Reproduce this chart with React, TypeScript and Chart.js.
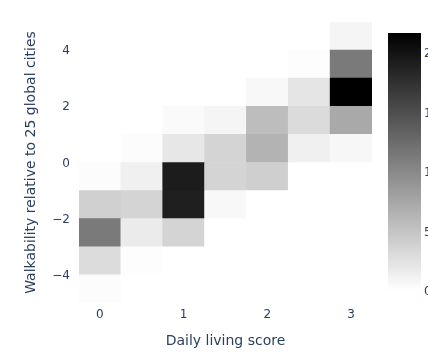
import React, { useEffect, useRef } from 'react';
import { Chart, registerables } from 'chart.js';

Chart.register(...registerables);

// ---- data ----
const xBinCenters = [0, 0.5, 1, 1.5, 2, 2.5, 3];
const yBinEdges = [-5, -4, -3, -2, -1, 0, 1, 2, 3, 4, 5];
const xTickValues = [0, 1, 2, 3];
const yTickValues = [-4, -2, 0, 2, 4];
const colorbarTicks = [0, 5, 10, 15, 20];
const xTitle = 'Daily living score';
const yTitle = 'Walkability relative to 25 global cities';

// z per y bin (bottom to top), one value per x bin
const zYm45 = [0.26, 0, 0, 0, 0, 0, 0];
const zYm35 = [3.0, 0.17, 0, 0, 0, 0, 0];
const zYm25 = [11.3, 1.7, 3.7, 0, 0, 0, 0];
const zYm15 = [4.0, 3.7, 19.1, 0.6, 0, 0, 0];
const zYm05 = [0.26, 1.3, 19.3, 3.7, 4.1, 0, 0];
const zYp05 = [0, 0.26, 2.0, 3.7, 6.5, 1.3, 0.7];
const zYp15 = [0, 0, 0.4, 0.85, 5.6, 3.1, 7.3];
const zYp25 = [0, 0, 0, 0, 0.6, 2.2, 21.7];
const zYp35 = [0, 0, 0, 0, 0, 0.17, 11.3];
const zYp45 = [0, 0, 0, 0, 0, 0, 0.85];

const zRows = [zYm45, zYm35, zYm25, zYm15, zYm05, zYp05, zYp15, zYp25, zYp35, zYp45];
const zMax = Math.max(...zRows.map((r) => Math.max(...r)));

const TEXT = '#2a3f5f';
const FONT = '"DejaVu Sans", Verdana, sans-serif';

function grayFor(v: number): string {
  const g = Math.round(255 * (1 - v / zMax));
  return `rgb(${g},${g},${g})`;
}

const colorbarPlugin = {
  id: 'colorbar',
  afterDraw(chart: any) {
    const { ctx, chartArea } = chart;
    const top = chartArea.top + 11;
    const bottom = chartArea.bottom - 12;
    const x0 = chartArea.right + 16;
    const w = 33;
    const grad = ctx.createLinearGradient(0, top, 0, bottom);
    grad.addColorStop(0, 'rgb(0,0,0)');
    grad.addColorStop(1, 'rgb(255,255,255)');
    ctx.save();
    ctx.fillStyle = grad;
    ctx.fillRect(x0, top, w, bottom - top);
    ctx.font = `12px ${FONT}`;
    ctx.fillStyle = TEXT;
    ctx.textBaseline = 'middle';
    ctx.textAlign = 'left';
    colorbarTicks.forEach((t) => {
      const y = bottom - (t / zMax) * (bottom - top);
      ctx.fillText(String(t), x0 + w + 3, y + 1);
    });
    ctx.restore();
  },
};

export default function App() {
  const ref = useRef<HTMLCanvasElement | null>(null);

  useEffect(() => {
    if (!ref.current) return;
    const datasets = zRows.map((row, i) => ({
      data: xBinCenters.map((x) => ({ x, y: [yBinEdges[i], yBinEdges[i + 1]] })),
      backgroundColor: row.map(grayFor),
      borderWidth: 0,
      barPercentage: 1,
      categoryPercentage: 1,
      grouped: false,
    }));

    const chart = new Chart(ref.current, {
      type: 'bar',
      data: { datasets: datasets as any },
      plugins: [colorbarPlugin],
      options: {
        animation: false,
        responsive: false,
        events: [],
        layout: { padding: { left: 0, right: 56, top: 22, bottom: 0 } },
        plugins: { legend: { display: false }, tooltip: { enabled: false } },
        scales: {
          x: {
            type: 'linear',
            min: -0.25,
            max: 3.25,
            offset: false,
            grid: { display: false },
            border: { display: false },
            afterBuildTicks: (axis: any) => {
              axis.ticks = xTickValues.map((v) => ({ value: v }));
            },
            afterFit: (scale: any) => {
              scale.height = 50;
            },
            ticks: {
              color: TEXT,
              font: { family: FONT, size: 12 },
              padding: -3,
              maxRotation: 0,
              callback: (v: any) => String(v),
            },
            title: {
              display: true,
              text: xTitle,
              color: TEXT,
              font: { family: FONT, size: 14 },
              padding: { top: 0, bottom: 3.6 },
            },
          },
          y: {
            type: 'linear',
            min: -5,
            max: 5,
            grid: { display: false },
            border: { display: false },
            afterBuildTicks: (axis: any) => {
              axis.ticks = yTickValues.map((v) => ({ value: v }));
            },
            afterFit: (scale: any) => {
              scale.width = 79;
            },
            ticks: {
              color: TEXT,
              font: { family: FONT, size: 12 },
              padding: 1,
              labelOffset: 1,
              callback: (v: any) => String(v).replace('-', '\u2212'),
            },
            title: {
              display: true,
              text: yTitle,
              color: TEXT,
              font: { family: FONT, size: 14 },
              padding: { top: 22.5, bottom: 0 },
            },
          },
        },
      },
    });
    return () => chart.destroy();
  }, []);

  return (
    <div style={{ position: 'fixed', left: 0, top: 0, width: 428, height: 353, background: '#fff' }}>
      <canvas ref={ref} width={428} height={353} style={{ display: 'block' }} />
    </div>
  );
}
